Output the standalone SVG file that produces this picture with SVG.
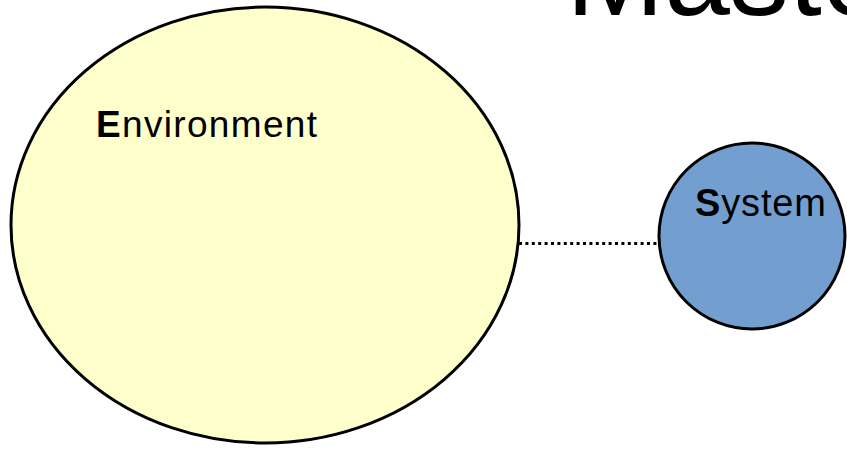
<svg xmlns="http://www.w3.org/2000/svg" width="847" height="449" viewBox="0 0 847 449">
<style>
.lbl{font-family:"Liberation Sans",Arial,sans-serif;fill:#000}
.node{stroke:#000;stroke-width:3}
</style>
<rect width="847" height="449" fill="#fff"/>
<text class="lbl" x="566" y="15" font-size="118">Maste</text>
<g id="connectors">
<line x1="519" y1="243.5" x2="658" y2="243.5" stroke="#000" stroke-width="3" stroke-dasharray="3 3.4"/>
</g>
<g id="environment">
<ellipse class="node" cx="265" cy="225" rx="254" ry="218" fill="#ffffcc"/>
<text class="lbl" x="96" y="137" font-size="37" textLength="221" lengthAdjust="spacing"><tspan font-weight="bold">E</tspan>nvironment</text>
</g>
<g id="system">
<circle class="node" cx="752" cy="236" r="93" fill="#729fcf"/>
<text class="lbl" x="695" y="216" font-size="38" textLength="131" lengthAdjust="spacing"><tspan font-weight="bold">S</tspan>ystem</text>
</g>
</svg>
